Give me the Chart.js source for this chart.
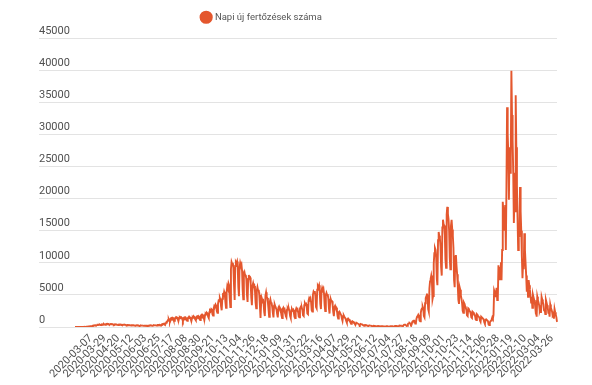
<!DOCTYPE html>
<html>
<head>
<meta charset="utf-8">
<script src="https://cdn.jsdelivr.net/npm/chart.js"></script>
<style>
  html, body { margin: 0; padding: 0; background: #fff; }
  #wrap { width: 592px; height: 385px; }
</style>
</head>
<body>
<div id="wrap"><canvas id="cases"></canvas></div>
<script>
// first day of the series, and the one day that is missing from it
const startDate = '2020-03-07';
const skippedDate = '2021-07-14';

// dates that get a label on the x axis
const xTickLabels = [
  '2020-03-07', '2020-03-29', '2020-04-20', '2020-05-12', '2020-06-03', '2020-06-25',
  '2020-07-17', '2020-08-08', '2020-08-30', '2020-09-21', '2020-10-13', '2020-11-04',
  '2020-11-26', '2020-12-18', '2021-01-09', '2021-01-31', '2021-02-22', '2021-03-16',
  '2021-04-07', '2021-04-29', '2021-05-21', '2021-06-12', '2021-07-04', '2021-07-27',
  '2021-08-18', '2021-09-09', '2021-10-01', '2021-10-23', '2021-11-14', '2021-12-06',
  '2021-12-28', '2022-01-19', '2022-02-10', '2022-03-04', '2022-03-26'
];
const yTicks = [0, 5000, 10000, 15000, 20000, 25000, 30000, 35000, 40000, 45000];

// daily new cases, one row per week
const dailyCases = [
  2, 0, 2, 2, 2, 3, 9,
  3, 7, 7, 19, 11, 8, 20,
  18, 36, 21, 20, 34, 28, 32,
  60, 75, 90, 110, 120, 130, 140,
  150, 190, 220, 210, 250, 270, 240,
  260, 310, 330, 300, 350, 380, 320,
  330, 400, 420, 380, 440, 450, 360,
  350, 430, 460, 420, 480, 470, 390,
  360, 420, 450, 410, 440, 430, 370,
  330, 400, 420, 390, 410, 400, 340,
  310, 370, 380, 360, 380, 360, 300,
  290, 340, 360, 330, 350, 330, 280,
  260, 310, 320, 300, 310, 300, 250,
  230, 280, 290, 270, 280, 260, 220,
  200, 250, 260, 240, 250, 230, 190,
  180, 220, 230, 210, 230, 220, 170,
  170, 210, 220, 200, 220, 210, 170,
  180, 230, 240, 220, 250, 240, 190,
  200, 260, 280, 260, 290, 280, 220,
  240, 310, 330, 300, 350, 340, 270,
  300, 400, 450, 420, 500, 520, 420,
  480, 700, 850, 900, 1100, 1200, 950,
  900, 1300, 1400, 1300, 1450, 1400, 1100,
  950, 1350, 1450, 1350, 1500, 1450, 1150,
  1000, 1400, 1500, 1400, 1550, 1500, 1200,
  950, 1350, 1450, 1350, 1500, 1450, 1100,
  950, 1400, 1500, 1400, 1550, 1450, 1150,
  1000, 1450, 1550, 1450, 1600, 1500, 1200,
  1050, 1550, 1650, 1550, 1700, 1600, 1250,
  1100, 1700, 1850, 1700, 1900, 1800, 1400,
  1200, 1900, 2100, 2000, 2200, 2100, 1600,
  1400, 2300, 2600, 2500, 2800, 2700, 2000,
  1800, 2900, 3300, 3200, 3500, 3300, 2500,
  2200, 3600, 4100, 4000, 4500, 4200, 3200,
  2600, 4400, 5000, 4900, 5500, 5200, 3900,
  3000, 5400, 6300, 6000, 6800, 6500, 4500,
  3100, 9000, 10100, 9800, 10000, 9200, 6500,
  4200, 9500, 10100, 9900, 10200, 9400, 6200,
  4800, 9300, 10000, 9600, 9800, 8800, 5800,
  4300, 8200, 8500, 8000, 8100, 7400, 5000,
  3900, 7500, 8100, 7600, 7700, 6800, 4600,
  3400, 6400, 6800, 6300, 6400, 5600, 3800,
  2900, 5700, 6200, 5700, 5800, 5000, 3300,
  1400, 3800, 4500, 4200, 4400, 3600, 2300,
  1700, 4900, 5400, 4700, 4500, 3800, 2700,
  1600, 3900, 4300, 3800, 3700, 3100, 2200,
  1500, 3300, 3500, 3200, 3200, 2700, 2000,
  1500, 3000, 3200, 2900, 2900, 2500, 1800,
  1400, 2800, 3000, 2700, 2800, 2400, 1700,
  1500, 2700, 2900, 2700, 2800, 2400, 1700,
  1400, 2600, 2800, 2600, 2700, 2300, 1600,
  1400, 2600, 2900, 2700, 2800, 2400, 1600,
  1500, 2900, 3100, 2900, 3000, 2600, 1800,
  1700, 3400, 3700, 3500, 3600, 3100, 2100,
  2000, 4100, 4500, 4300, 4500, 3900, 2600,
  2400, 5000, 5500, 5300, 5600, 4800, 3100,
  2900, 5800, 6400, 6200, 6500, 5600, 3600,
  2800, 5600, 6100, 5800, 6000, 5200, 3400,
  2500, 4900, 5300, 5000, 5100, 4400, 2900,
  2100, 4000, 4300, 4000, 4000, 3400, 2300,
  1700, 3100, 3300, 3000, 3000, 2500, 1700,
  1300, 2300, 2400, 2200, 2200, 1800, 1300,
  950, 1700, 1800, 1600, 1600, 1300, 950,
  700, 1200, 1300, 1150, 1150, 950, 700,
  500, 850, 900, 800, 800, 650, 480,
  350, 600, 620, 560, 550, 450, 330,
  250, 420, 440, 400, 390, 320, 240,
  180, 300, 310, 280, 270, 230, 170,
  130, 220, 230, 210, 200, 170, 120,
  100, 170, 180, 160, 150, 130, 90,
  80, 140, 150, 130, 120, 110, 70,
  70, 120, 130, 110, 110, 100, 60,
  60, 110, 120, 110, 100, 90, 60,
  60, 110, 130, 120, 110, 100, 60,
  70, 140, 160, 150, 150, 130, 80,
  90, 190, 230, 220, 220, 190, 120,
  130, 300, 360, 350, 350, 300, 180,
  200, 450, 560, 560, 600, 520, 300,
  330, 750, 900, 950, 1000, 900, 520,
  550, 1300, 1600, 1700, 1900, 1700, 1000,
  900, 2200, 2700, 2900, 3200, 2900, 1700,
  1500, 3700, 4500, 4800, 5200, 4700, 2800,
  2400, 6000, 7100, 7500, 8000, 7300, 4300,
  4800, 9800, 11500, 12300, 12000, 10800, 7500,
  6500, 13500, 14800, 14200, 13800, 12500, 9300,
  8000, 15500, 16700, 16000, 15800, 14300, 10500,
  9200, 17500, 18700, 17600, 16800, 15000, 10800,
  9000, 15800, 16700, 15200, 14200, 12300, 7300,
  6200, 11000, 11200, 9500, 8200, 6500, 4200,
  3600, 6200, 5800, 4900, 4400, 3700, 2500,
  2200, 3800, 3600, 3200, 3000, 2600, 1800,
  1700, 2900, 2800, 2500, 2400, 2100, 1500,
  1400, 2400, 2300, 2100, 2000, 1800, 1200,
  1100, 2000, 1900, 1700, 1700, 1500, 1000,
  800, 1600, 1500, 1400, 1300, 1200, 750,
  500, 1100, 1200, 1100, 1000, 900, 400,
  300, 700, 900, 1000, 1200, 1500, 1300,
  1900, 5700, 5400, 4800, 5200, 6100, 4200,
  4500, 9600, 8800, 7300, 9200, 10100, 7300,
  12000, 19500, 18000, 15000, 17500, 19000, 12000,
  22000, 34200, 30000, 27000, 19800, 28000, 24000,
  26000, 39900, 33000, 29000, 24000, 16200, 20000,
  18000, 36100, 28000, 22000, 17000, 12000, 15000,
  14000, 21800, 18000, 15000, 11000, 7600, 10000,
  9000, 14600, 12000, 10000, 8000, 5500, 7300,
  4700, 7300, 6500, 5800, 5000, 3800, 4700,
  3000, 5000, 4600, 4200, 3800, 2800, 3300,
  1600, 4700, 4200, 3800, 3400, 2500, 2800,
  2200, 4700, 4300, 3900, 3500, 2600, 2700,
  2000, 4200, 3800, 3400, 3000, 2200, 2400,
  1600, 3500, 3000, 2700, 2400, 1700, 1800,
  1300, 2800, 2300, 1900, 1500, 800
];

// one date per value, starting at startDate, one day left out
const days = [];
const cur = new Date(startDate + 'T00:00:00Z');
while (days.length < dailyCases.length) {
  const s = cur.toISOString().slice(0, 10);
  if (s !== skippedDate) days.push(s);
  cur.setUTCDate(cur.getUTCDate() + 1);
}

const lineColor = '#e4572e';
const tickFont = { family: 'Roboto', size: 11 };

// legend in the picture sits left of centre and close to the top edge
const legendShift = {
  id: 'legendShift',
  afterLayout(chart) {
    const lg = chart.legend;
    lg.left -= 36;
    lg.right -= 36;
    lg.top -= 6;
    lg.bottom -= 6;
  }
};

new Chart(document.getElementById('cases'), {
  type: 'line',
  data: {
    labels: days,
    datasets: [{
      label: 'Napi új fertőzések száma',
      data: dailyCases,
      borderColor: lineColor,
      backgroundColor: lineColor,
      borderWidth: 1.9,
      pointRadius: 0,
      tension: 0
    }]
  },
  options: {
    responsive: true,
    maintainAspectRatio: false,
    animation: false,
    layout: { padding: { left: 39, right: 35 } },
    plugins: {
      legend: {
        labels: {
          usePointStyle: true,
          pointStyle: 'circle',
          boxWidth: 8,
          boxHeight: 8,
          padding: 11,
          color: '#555',
          font: { family: 'Roboto', size: 9.5 }
        }
      },
      tooltip: { enabled: false }
    },
    scales: {
      x: {
        grid: { display: false, drawTicks: false },
        border: { display: false },
        ticks: {
          autoSkip: false,
          maxRotation: 45,
          minRotation: 45,
          padding: 5,
          labelOffset: 16,
          color: '#505050',
          font: tickFont,
          callback: function (v) {
            const d = this.getLabelForValue(v);
            return xTickLabels.includes(d) ? d : null;
          }
        },
        afterFit: s => { s.height = 58; }
      },
      y: {
        min: 0,
        max: 45000,
        grid: { color: '#e3e3e3', tickLength: 36 },
        border: { display: false },
        ticks: {
          crossAlign: 'far',
          labelOffset: -7,
          padding: 0,
          color: '#505050',
          font: tickFont,
          callback: v => String(v)
        },
        afterBuildTicks: s => { s.ticks = yTicks.map(v => ({ value: v })); },
        afterFit: s => { s.width = 36; s.paddingTop = 38; }
      }
    }
  },
  plugins: [legendShift]
});
</script>
</body>
</html>
